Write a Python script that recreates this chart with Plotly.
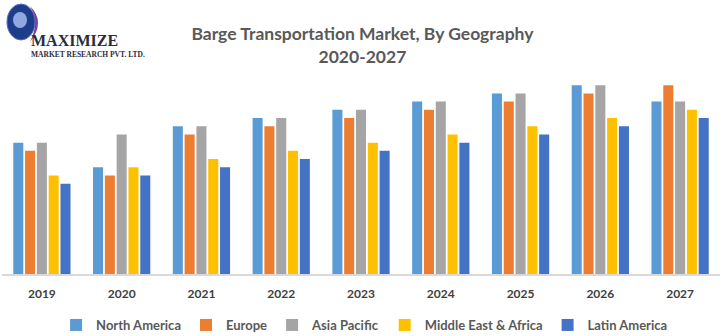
import plotly.graph_objects as go

years = ["2019", "2020", "2021", "2022", "2023", "2024", "2025", "2026", "2027"]
north_america = [16, 13, 18, 19, 20, 21, 22, 23, 21]
europe = [15, 12, 17, 18, 19, 20, 21, 22, 23]
asia_pacific = [16, 17, 18, 19, 20, 21, 22, 23, 21]
middle_east_africa = [12, 13, 14, 15, 16, 17, 18, 19, 20]
latin_america = [11, 12, 13, 14, 15, 16, 17, 18, 19]

series = [
    ("North America", north_america, "#5B9BD5"),
    ("Europe", europe, "#ED7D31"),
    ("Asia Pacific", asia_pacific, "#A5A5A5"),
    ("Middle East & Africa", middle_east_africa, "#FFC000"),
    ("Latin America", latin_america, "#4472C4"),
]

fig = go.Figure()
for name, vals, color in series:
    fig.add_trace(go.Bar(x=years, y=vals, name="<b>" + name + "</b>",
                         marker_color=color, marker_line_width=0))

PX0, PW = 2, 718     # plot area left / width in px
PY1, PH = 274, 204   # plot area bottom / height in px
H = 336


def px(x):
    return (x - PX0) / PW


def py(y):
    return (PY1 - y) / PH


fig.update_layout(
    width=722, height=H,
    margin=dict(l=2, r=2, t=70, b=62),
    paper_bgcolor="white", plot_bgcolor="white",
    barmode="group", bargap=0.26, bargroupgap=0.15,
    font=dict(family="Lato", color="#595959"),
    title=dict(
        text="<b>Barge Transportation Market, By Geography<br>2020-2027</b>",
        x=0.502, xanchor="center", y=1 - 40 / H, yanchor="middle",
        font=dict(size=17.5, color="#595959", family="Lato"),
    ),
    showlegend=True,
    legend=dict(
        orientation="h", x=0.505, xanchor="center",
        yref="container", y=1 - 325 / H, yanchor="middle",
        font=dict(size=13, color="#595959", family="Lato"),
        itemwidth=30, traceorder="normal",
    ),
    xaxis=dict(
        showline=True, linecolor="#D9D9D9", linewidth=1.5,
        ticks="outside", ticklen=8, tickcolor="rgba(0,0,0,0)",
        tickfont=dict(size=12, color="#404040", family="Lato"),
        tickprefix="<b>", ticksuffix="</b>",
        showgrid=False,
    ),
    yaxis=dict(range=[0, 24.85], visible=False, showgrid=False),
)

# Logo (approximation)
fig.add_shape(type="path", xref="paper", yref="paper",
              path=(f"M {px(30)},{py(6)} Q {px(46)},{py(22)} {px(30)},{py(42)} "
                    f"Q {px(40)},{py(22)} {px(30)},{py(6)} Z"),
              fillcolor="#7A3E9D", line=dict(width=0))
fig.add_shape(type="circle", xref="paper", yref="paper",
              x0=px(7), x1=px(35), y0=py(40), y1=py(4),
              fillcolor="#1E3C8C", line=dict(color="#5A6FB8", width=1))
fig.add_shape(type="circle", xref="paper", yref="paper",
              x0=px(13), x1=px(27), y0=py(28), y1=py(12),
              fillcolor="#8FA8E0", line=dict(width=0))
fig.add_annotation(text="<b>MAXIMIZE</b>", xref="paper", yref="paper",
                   x=px(29), y=py(40), xanchor="left", yanchor="middle",
                   showarrow=False,
                   font=dict(family="Liberation Serif", size=16, color="#2B2B3A"))
fig.add_annotation(text="<b>MARKET RESEARCH PVT. LTD.</b>", xref="paper", yref="paper",
                   x=px(29), y=py(54), xanchor="left", yanchor="middle",
                   showarrow=False,
                   font=dict(family="Liberation Serif", size=7.5, color="#2B2B3A"))

fig.write_html("out.html")
